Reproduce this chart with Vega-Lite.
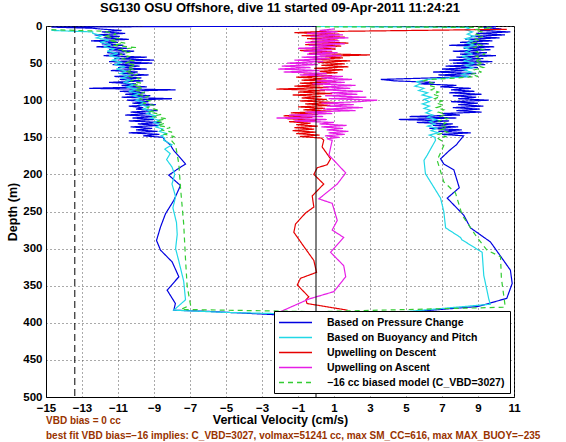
{
"$schema": "https://vega.github.io/schema/vega-lite/v6.json",
"width": 468, "height": 371,
"autosize": "none",
"padding": {"left": 46, "top": 26, "right": 52, "bottom": 45},
"background": "white",
"title": {"text": "SG130 OSU Offshore, dive 11 started 09-Apr-2011 11:24:21", "font": "Liberation Sans", "fontSize": 13, "fontWeight": "bold", "color": "black", "offset": 5},
"config": {
  "view": {"stroke": "black", "strokeWidth": 1},
  "axis": {"labelFont": "Liberation Sans", "labelFontSize": 11.5, "labelFontWeight": "bold", "labelColor": "black", "labelOverlap": false, "titleFont": "Liberation Sans", "titleFontSize": 12.5, "titleFontWeight": "bold", "titleColor": "black", "domainColor": "black", "ticks": false, "grid": true, "gridColor": "#555555", "gridDash": [1, 3], "gridOpacity": 1, "labelPadding": 4, "titlePadding": 3},
  "legend": {"orient": "bottom-right", "offset": 4, "fillColor": "white", "strokeColor": "black", "padding": 5, "labelFont": "Liberation Sans", "labelFontSize": 10.5, "labelFontWeight": "bold", "labelColor": "black", "labelLimit": 400, "symbolType": "M-3,0H3", "symbolSize": 121, "symbolStrokeWidth": 1.5, "symbolOffset": 10, "labelOffset": 25, "rowPadding": 3, "cornerRadius": 0}
},
"datasets": {
"prof": [
{"s":"P","v":0,"d":0},{"s":"P","v":-14.7,"d":1.5},{"s":"P","v":-12.4,"d":3},
{"s":"P","v":-12.0,"d":4},{"s":"P","v":-10.8,"d":6},{"s":"P","v":-11.9,"d":8},{"s":"P","v":-10.6,"d":10},{"s":"P","v":-12.3,"d":12},{"s":"P","v":-10.9,"d":14},{"s":"P","v":-11.8,"d":16},{"s":"P","v":-10.4,"d":18},{"s":"P","v":-12.5,"d":20},{"s":"P","v":-11.0,"d":22},{"s":"P","v":-11.9,"d":24},{"s":"P","v":-10.7,"d":26},{"s":"P","v":-12.2,"d":28},{"s":"P","v":-10.5,"d":30},{"s":"P","v":-11.5,"d":32},{"s":"P","v":-10.1,"d":34},{"s":"P","v":-11.6,"d":36},{"s":"P","v":-10.6,"d":38},{"s":"P","v":-11.8,"d":40},{"s":"P","v":-9.4,"d":42},{"s":"P","v":-11.2,"d":44},{"s":"P","v":-9.0,"d":46},{"s":"P","v":-11.5,"d":48},{"s":"P","v":-9.1,"d":50},{"s":"P","v":-11.3,"d":52},{"s":"P","v":-9.8,"d":54},{"s":"P","v":-11.0,"d":56},{"s":"P","v":-9.4,"d":58},{"s":"P","v":-11.4,"d":60},{"s":"P","v":-9.9,"d":62},{"s":"P","v":-10.8,"d":64},{"s":"P","v":-9.3,"d":66},{"s":"P","v":-11.2,"d":68},{"s":"P","v":-9.7,"d":70},{"s":"P","v":-10.9,"d":72},{"s":"P","v":-9.6,"d":74},{"s":"P","v":-11.5,"d":76},{"s":"P","v":-10.0,"d":78},{"s":"P","v":-10.8,"d":80},{"s":"P","v":-9.4,"d":82},{"s":"P","v":-12.6,"d":84},{"s":"P","v":-7.8,"d":86},{"s":"P","v":-10.9,"d":88},{"s":"P","v":-9.5,"d":90},{"s":"P","v":-10.6,"d":92},{"s":"P","v":-9.2,"d":94},{"s":"P","v":-10.8,"d":96},{"s":"P","v":-8.0,"d":98},{"s":"P","v":-10.5,"d":100},{"s":"P","v":-9.3,"d":102},{"s":"P","v":-10.2,"d":104},{"s":"P","v":-8.9,"d":106},{"s":"P","v":-10.4,"d":108},{"s":"P","v":-9.6,"d":110},{"s":"P","v":-10.0,"d":112},{"s":"P","v":-8.8,"d":114},{"s":"P","v":-10.3,"d":116},{"s":"P","v":-9.2,"d":118},{"s":"P","v":-10.6,"d":120},{"s":"P","v":-8.9,"d":122},{"s":"P","v":-10.2,"d":124},{"s":"P","v":-9.0,"d":126},{"s":"P","v":-10.4,"d":128},{"s":"P","v":-8.6,"d":130},{"s":"P","v":-9.9,"d":132},{"s":"P","v":-8.7,"d":134},{"s":"P","v":-10.3,"d":136},{"s":"P","v":-9.1,"d":138},{"s":"P","v":-10.0,"d":140},{"s":"P","v":-8.8,"d":142},{"s":"P","v":-10.4,"d":144},{"s":"P","v":-8.7,"d":146},{"s":"P","v":-9.6,"d":148},{"s":"P","v":-8.5,"d":150},
{"s":"P","v":-8.4,"d":154},{"s":"P","v":-8.1,"d":160},{"s":"P","v":-7.9,"d":168},{"s":"P","v":-7.6,"d":176},{"s":"P","v":-7.25,"d":186},{"s":"P","v":-7.7,"d":193},{"s":"P","v":-8.18,"d":201},{"s":"P","v":-7.53,"d":215},{"s":"P","v":-7.9,"d":235},{"s":"P","v":-8.36,"d":253},{"s":"P","v":-8.64,"d":271},{"s":"P","v":-8.86,"d":289},{"s":"P","v":-8.64,"d":302},{"s":"P","v":-7.99,"d":318},{"s":"P","v":-7.62,"d":338},{"s":"P","v":-8.27,"d":356},{"s":"P","v":-7.81,"d":374},{"s":"P","v":-7.9,"d":383},{"s":"P","v":-6.1,"d":384.5},{"s":"P","v":-2.3,"d":389},{"s":"P","v":4.6,"d":386.5},{"s":"P","v":9.0,"d":378},{"s":"P","v":10.6,"d":367},{"s":"P","v":10.9,"d":347},{"s":"P","v":10.8,"d":329},{"s":"P","v":9.69,"d":291},{"s":"P","v":8.58,"d":272},{"s":"P","v":8.21,"d":255},{"s":"P","v":7.29,"d":232},{"s":"P","v":7.96,"d":218},{"s":"P","v":7.66,"d":194},{"s":"P","v":7.1,"d":186},{"s":"P","v":6.92,"d":179},{"s":"P","v":7.4,"d":168},{"s":"P","v":7.8,"d":160},{"s":"P","v":8.0,"d":154},
{"s":"P","v":8.2,"d":148},{"s":"P","v":7.0,"d":146},{"s":"P","v":8.6,"d":144},{"s":"P","v":6.8,"d":142},{"s":"P","v":8.1,"d":140},{"s":"P","v":6.3,"d":138},{"s":"P","v":7.9,"d":136},{"s":"P","v":6.5,"d":134},{"s":"P","v":7.6,"d":132},{"s":"P","v":5.6,"d":130},{"s":"P","v":7.4,"d":128},{"s":"P","v":4.6,"d":126},{"s":"P","v":7.8,"d":124},{"s":"P","v":5.2,"d":122},{"s":"P","v":8.0,"d":120},{"s":"P","v":7.0,"d":118},{"s":"P","v":9.2,"d":116},{"s":"P","v":7.8,"d":114},{"s":"P","v":9.1,"d":112},{"s":"P","v":7.6,"d":110},{"s":"P","v":9.3,"d":108},{"s":"P","v":7.9,"d":106},{"s":"P","v":9.0,"d":104},{"s":"P","v":7.5,"d":102},{"s":"P","v":9.6,"d":100},{"s":"P","v":7.9,"d":98},{"s":"P","v":8.9,"d":96},{"s":"P","v":7.6,"d":94},{"s":"P","v":9.2,"d":92},{"s":"P","v":7.4,"d":90},{"s":"P","v":8.8,"d":88},{"s":"P","v":7.5,"d":86},{"s":"P","v":8.6,"d":84},{"s":"P","v":6.9,"d":82},{"s":"P","v":7.8,"d":80},{"s":"P","v":5.8,"d":78},{"s":"P","v":6.6,"d":76},{"s":"P","v":4.4,"d":74},{"s":"P","v":3.6,"d":72},{"s":"P","v":6.4,"d":70},{"s":"P","v":8.6,"d":68},{"s":"P","v":6.8,"d":66},{"s":"P","v":8.9,"d":64},{"s":"P","v":6.5,"d":62},{"s":"P","v":8.4,"d":60},{"s":"P","v":7.0,"d":58},{"s":"P","v":9.0,"d":56},{"s":"P","v":7.2,"d":54},{"s":"P","v":9.4,"d":52},{"s":"P","v":7.6,"d":50},{"s":"P","v":9.8,"d":48},{"s":"P","v":7.4,"d":46},{"s":"P","v":9.3,"d":44},{"s":"P","v":7.8,"d":42},{"s":"P","v":10.0,"d":40},{"s":"P","v":8.0,"d":38},{"s":"P","v":9.5,"d":36},{"s":"P","v":7.6,"d":34},{"s":"P","v":9.7,"d":32},{"s":"P","v":8.2,"d":30},{"s":"P","v":9.9,"d":28},{"s":"P","v":7.4,"d":26},{"s":"P","v":9.6,"d":24},{"s":"P","v":8.0,"d":22},{"s":"P","v":9.8,"d":20},{"s":"P","v":8.3,"d":18},{"s":"P","v":10.2,"d":16},{"s":"P","v":8.6,"d":14},{"s":"P","v":10.5,"d":12},{"s":"P","v":8.9,"d":10},{"s":"P","v":10.8,"d":8},{"s":"P","v":9.1,"d":6},{"s":"P","v":10.3,"d":4},{"s":"P","v":9.3,"d":2},{"s":"P","v":10.0,"d":0.8},

{"s":"B","v":-14.7,"d":6},{"s":"B","v":-12.4,"d":8},
{"s":"B","v":-12.4,"d":10},{"s":"B","v":-11.9,"d":13},{"s":"B","v":-12.2,"d":16},{"s":"B","v":-11.5,"d":19},{"s":"B","v":-12.0,"d":22},{"s":"B","v":-11.4,"d":25},{"s":"B","v":-11.8,"d":28},{"s":"B","v":-11.2,"d":31},{"s":"B","v":-11.6,"d":34},{"s":"B","v":-11.0,"d":37},{"s":"B","v":-11.5,"d":40},{"s":"B","v":-10.9,"d":43},{"s":"B","v":-11.3,"d":46},{"s":"B","v":-10.8,"d":49},{"s":"B","v":-11.2,"d":52},{"s":"B","v":-10.6,"d":55},{"s":"B","v":-11.1,"d":58},{"s":"B","v":-10.5,"d":61},{"s":"B","v":-10.9,"d":64},{"s":"B","v":-10.4,"d":67},{"s":"B","v":-10.8,"d":70},{"s":"B","v":-10.3,"d":73},{"s":"B","v":-10.7,"d":76},{"s":"B","v":-10.1,"d":79},{"s":"B","v":-10.5,"d":82},{"s":"B","v":-10.0,"d":85},{"s":"B","v":-10.4,"d":88},{"s":"B","v":-9.8,"d":91},{"s":"B","v":-10.2,"d":94},{"s":"B","v":-9.7,"d":97},{"s":"B","v":-10.0,"d":100},{"s":"B","v":-9.5,"d":103},{"s":"B","v":-9.8,"d":106},{"s":"B","v":-9.3,"d":109},{"s":"B","v":-9.6,"d":112},{"s":"B","v":-9.1,"d":115},{"s":"B","v":-9.4,"d":118},{"s":"B","v":-8.9,"d":121},{"s":"B","v":-9.2,"d":124},{"s":"B","v":-8.7,"d":127},{"s":"B","v":-9.0,"d":130},{"s":"B","v":-8.6,"d":133},{"s":"B","v":-8.9,"d":136},{"s":"B","v":-8.5,"d":139},{"s":"B","v":-8.7,"d":142},{"s":"B","v":-8.3,"d":145},{"s":"B","v":-8.6,"d":148},{"s":"B","v":-8.4,"d":151},
{"s":"B","v":-8.46,"d":154},{"s":"B","v":-8.0,"d":160},{"s":"B","v":-8.4,"d":166},{"s":"B","v":-8.1,"d":172},{"s":"B","v":-8.3,"d":180},{"s":"B","v":-8.0,"d":190},{"s":"B","v":-7.85,"d":200},{"s":"B","v":-8.0,"d":213},{"s":"B","v":-7.8,"d":230},{"s":"B","v":-7.95,"d":245},{"s":"B","v":-7.75,"d":265},{"s":"B","v":-7.71,"d":281},{"s":"B","v":-7.8,"d":300},{"s":"B","v":-7.62,"d":317},{"s":"B","v":-7.35,"d":344},{"s":"B","v":-7.25,"d":369},{"s":"B","v":-7.9,"d":383},{"s":"B","v":-5.0,"d":386},{"s":"B","v":-1.5,"d":388},{"s":"B","v":4.0,"d":387},{"s":"B","v":9.68,"d":375},{"s":"B","v":9.6,"d":368},{"s":"B","v":9.32,"d":336},{"s":"B","v":9.23,"d":305},{"s":"B","v":8.1,"d":288},{"s":"B","v":8.03,"d":285},{"s":"B","v":7.2,"d":272},{"s":"B","v":7.1,"d":250},{"s":"B","v":6.92,"d":232},{"s":"B","v":6.36,"d":210},{"s":"B","v":6.08,"d":199},{"s":"B","v":6.0,"d":181},{"s":"B","v":6.18,"d":174},{"s":"B","v":6.64,"d":154},
{"s":"B","v":6.6,"d":150},{"s":"B","v":6.3,"d":147},{"s":"B","v":6.8,"d":144},{"s":"B","v":6.4,"d":141},{"s":"B","v":6.7,"d":138},{"s":"B","v":6.2,"d":135},{"s":"B","v":6.6,"d":132},{"s":"B","v":6.3,"d":129},{"s":"B","v":6.7,"d":126},{"s":"B","v":6.2,"d":123},{"s":"B","v":6.5,"d":120},{"s":"B","v":6.1,"d":117},{"s":"B","v":6.4,"d":114},{"s":"B","v":6.0,"d":111},{"s":"B","v":6.3,"d":108},{"s":"B","v":5.9,"d":105},{"s":"B","v":6.3,"d":102},{"s":"B","v":6.0,"d":99},{"s":"B","v":6.4,"d":96},{"s":"B","v":5.9,"d":93},{"s":"B","v":6.2,"d":90},{"s":"B","v":5.7,"d":87},{"s":"B","v":6.0,"d":84},{"s":"B","v":5.5,"d":81},{"s":"B","v":5.8,"d":78},{"s":"B","v":5.6,"d":75},{"s":"B","v":6.2,"d":72},{"s":"B","v":7.4,"d":70},{"s":"B","v":8.5,"d":68},{"s":"B","v":8.1,"d":65},{"s":"B","v":8.6,"d":62},{"s":"B","v":8.2,"d":59},{"s":"B","v":8.7,"d":56},{"s":"B","v":8.3,"d":53},{"s":"B","v":8.8,"d":50},{"s":"B","v":8.2,"d":47},{"s":"B","v":8.6,"d":44},{"s":"B","v":8.1,"d":41},{"s":"B","v":8.7,"d":38},{"s":"B","v":8.3,"d":35},{"s":"B","v":8.6,"d":32},{"s":"B","v":8.2,"d":29},{"s":"B","v":8.8,"d":26},{"s":"B","v":8.4,"d":23},{"s":"B","v":8.7,"d":20},{"s":"B","v":8.3,"d":17},{"s":"B","v":8.8,"d":14},{"s":"B","v":8.4,"d":11},{"s":"B","v":8.7,"d":8},{"s":"B","v":8.3,"d":5},{"s":"B","v":8.6,"d":2},{"s":"B","v":0,"d":0.5},

{"s":"D","v":10.6,"d":4.5},{"s":"D","v":0.2,"d":7.5},
{"s":"D","v":-1.2,"d":9},{"s":"D","v":1.3,"d":11},{"s":"D","v":-0.8,"d":13},{"s":"D","v":1.6,"d":15},{"s":"D","v":-0.5,"d":17},{"s":"D","v":1.2,"d":19},{"s":"D","v":-0.3,"d":21},{"s":"D","v":1.8,"d":23},{"s":"D","v":-0.6,"d":25},{"s":"D","v":1.4,"d":27},{"s":"D","v":-0.2,"d":29},{"s":"D","v":1.1,"d":31},{"s":"D","v":-0.9,"d":33},{"s":"D","v":0.9,"d":35},{"s":"D","v":-0.4,"d":37},{"s":"D","v":3.0,"d":39},{"s":"D","v":0.2,"d":41},{"s":"D","v":1.5,"d":43},{"s":"D","v":-0.2,"d":45},{"s":"D","v":1.9,"d":47},{"s":"D","v":0.1,"d":49},{"s":"D","v":1.6,"d":51},{"s":"D","v":0.3,"d":53},{"s":"D","v":1.8,"d":55},{"s":"D","v":-0.1,"d":57},{"s":"D","v":1.5,"d":59},{"s":"D","v":0.2,"d":61},{"s":"D","v":1.2,"d":63},{"s":"D","v":-0.7,"d":65},{"s":"D","v":0.9,"d":67},{"s":"D","v":-1.1,"d":69},{"s":"D","v":0.6,"d":71},{"s":"D","v":-0.8,"d":73},{"s":"D","v":1.1,"d":75},{"s":"D","v":-0.9,"d":77},{"s":"D","v":0.4,"d":79},{"s":"D","v":-1.2,"d":81},{"s":"D","v":0.7,"d":83},{"s":"D","v":-2.2,"d":85},{"s":"D","v":0.5,"d":87},{"s":"D","v":-1.0,"d":89},{"s":"D","v":0.9,"d":91},{"s":"D","v":-1.3,"d":93},{"s":"D","v":0.3,"d":95},{"s":"D","v":-0.8,"d":97},{"s":"D","v":0.6,"d":99},{"s":"D","v":-0.9,"d":101},{"s":"D","v":1.0,"d":103},{"s":"D","v":-0.6,"d":105},{"s":"D","v":0.8,"d":107},{"s":"D","v":-1.0,"d":109},{"s":"D","v":0.5,"d":111},{"s":"D","v":-0.7,"d":113},{"s":"D","v":0.9,"d":115},{"s":"D","v":-1.4,"d":117},{"s":"D","v":0.1,"d":119},{"s":"D","v":-1.8,"d":121},{"s":"D","v":-0.2,"d":123},{"s":"D","v":-1.6,"d":125},{"s":"D","v":0.0,"d":127},{"s":"D","v":-1.5,"d":129},{"s":"D","v":-0.3,"d":131},{"s":"D","v":-1.1,"d":133},{"s":"D","v":0.1,"d":135},{"s":"D","v":-1.2,"d":137},{"s":"D","v":-0.1,"d":139},{"s":"D","v":-1.3,"d":141},{"s":"D","v":0.0,"d":143},{"s":"D","v":-1.1,"d":145},{"s":"D","v":0.2,"d":147},{"s":"D","v":-0.9,"d":149},{"s":"D","v":0.3,"d":151},
{"s":"D","v":0.43,"d":154},{"s":"D","v":0.34,"d":163},{"s":"D","v":0.81,"d":179},{"s":"D","v":0.62,"d":187},{"s":"D","v":0.07,"d":191},{"s":"D","v":-0.12,"d":200},{"s":"D","v":0.43,"d":213},{"s":"D","v":-0.21,"d":229},{"s":"D","v":-0.12,"d":244},{"s":"D","v":-0.58,"d":252},{"s":"D","v":-1.14,"d":267},{"s":"D","v":-1.23,"d":278},{"s":"D","v":-0.68,"d":297},{"s":"D","v":-0.12,"d":316},{"s":"D","v":0.03,"d":332},{"s":"D","v":-0.86,"d":340},{"s":"D","v":-1.04,"d":349},{"s":"D","v":-0.4,"d":365},{"s":"D","v":-0.56,"d":369},{"s":"D","v":-0.5,"d":374},{"s":"D","v":1.75,"d":383},

{"s":"A","v":-2.16,"d":387},{"s":"A","v":-0.4,"d":368},{"s":"A","v":0.99,"d":358},{"s":"A","v":1.65,"d":338},{"s":"A","v":1.54,"d":323},{"s":"A","v":0.81,"d":305},{"s":"A","v":1.54,"d":285},{"s":"A","v":0.9,"d":275},{"s":"A","v":1.18,"d":262},{"s":"A","v":0.9,"d":239},{"s":"A","v":0.16,"d":233},{"s":"A","v":1.18,"d":213},{"s":"A","v":1.65,"d":198},{"s":"A","v":0.72,"d":174},{"s":"A","v":0.9,"d":154},
{"s":"A","v":0.6,"d":152},{"s":"A","v":1.3,"d":150},{"s":"A","v":0.5,"d":148},{"s":"A","v":1.6,"d":146},{"s":"A","v":0.7,"d":144},{"s":"A","v":1.8,"d":142},{"s":"A","v":0.6,"d":140},{"s":"A","v":1.5,"d":138},{"s":"A","v":0.3,"d":136},{"s":"A","v":1.7,"d":134},{"s":"A","v":0.2,"d":132},{"s":"A","v":1.0,"d":130},{"s":"A","v":-1.2,"d":128},{"s":"A","v":0.6,"d":126},{"s":"A","v":-2.2,"d":124},{"s":"A","v":0.4,"d":122},{"s":"A","v":-1.5,"d":120},{"s":"A","v":0.9,"d":118},{"s":"A","v":-0.6,"d":116},{"s":"A","v":2.2,"d":114},{"s":"A","v":0.4,"d":112},{"s":"A","v":2.6,"d":110},{"s":"A","v":0.6,"d":108},{"s":"A","v":2.1,"d":106},{"s":"A","v":0.3,"d":104},{"s":"A","v":2.4,"d":102},{"s":"A","v":3.4,"d":100},{"s":"A","v":0.7,"d":98},{"s":"A","v":2.8,"d":96},{"s":"A","v":0.5,"d":94},{"s":"A","v":2.3,"d":92},{"s":"A","v":0.8,"d":90},{"s":"A","v":2.6,"d":88},{"s":"A","v":0.2,"d":86},{"s":"A","v":1.9,"d":84},{"s":"A","v":0.4,"d":82},{"s":"A","v":2.2,"d":80},{"s":"A","v":-0.2,"d":78},{"s":"A","v":1.6,"d":76},{"s":"A","v":0.0,"d":74},{"s":"A","v":2.0,"d":72},{"s":"A","v":0.3,"d":70},{"s":"A","v":1.5,"d":68},{"s":"A","v":-0.9,"d":66},{"s":"A","v":0.6,"d":64},{"s":"A","v":-1.8,"d":62},{"s":"A","v":0.2,"d":60},{"s":"A","v":-2.1,"d":58},{"s":"A","v":-0.3,"d":56},{"s":"A","v":-1.9,"d":54},{"s":"A","v":0.1,"d":52},{"s":"A","v":-1.6,"d":50},{"s":"A","v":0.4,"d":48},{"s":"A","v":-1.2,"d":46},{"s":"A","v":0.8,"d":44},{"s":"A","v":-0.8,"d":42},{"s":"A","v":1.4,"d":40},{"s":"A","v":-0.5,"d":38},{"s":"A","v":1.2,"d":36},{"s":"A","v":-0.7,"d":34},{"s":"A","v":0.9,"d":32},{"s":"A","v":-1.0,"d":30},{"s":"A","v":1.1,"d":28},{"s":"A","v":-0.4,"d":26},{"s":"A","v":1.6,"d":24},{"s":"A","v":-0.6,"d":22},{"s":"A","v":1.3,"d":20},{"s":"A","v":-0.2,"d":18},{"s":"A","v":1.8,"d":16},{"s":"A","v":-0.3,"d":14},{"s":"A","v":1.5,"d":12},{"s":"A","v":-0.5,"d":10},{"s":"A","v":1.2,"d":8},{"s":"A","v":0.2,"d":6},{"s":"A","v":1.0,"d":4},

{"s":"M","v":-14.7,"d":5},{"s":"M","v":-11.8,"d":7},
{"s":"M","v":-11.6,"d":8},{"s":"M","v":-11.1,"d":11},{"s":"M","v":-11.8,"d":14},{"s":"M","v":-10.9,"d":17},{"s":"M","v":-11.5,"d":20},{"s":"M","v":-10.6,"d":23},{"s":"M","v":-11.3,"d":26},{"s":"M","v":-10.0,"d":29},{"s":"M","v":-11.0,"d":32},{"s":"M","v":-10.3,"d":35},{"s":"M","v":-10.9,"d":38},{"s":"M","v":-10.4,"d":41},{"s":"M","v":-10.8,"d":44},{"s":"M","v":-10.1,"d":47},{"s":"M","v":-10.6,"d":50},{"s":"M","v":-10.0,"d":53},{"s":"M","v":-10.5,"d":56},{"s":"M","v":-10.1,"d":59},{"s":"M","v":-10.6,"d":62},{"s":"M","v":-9.9,"d":65},{"s":"M","v":-10.4,"d":68},{"s":"M","v":-9.8,"d":71},{"s":"M","v":-10.3,"d":74},{"s":"M","v":-9.7,"d":77},{"s":"M","v":-10.2,"d":80},{"s":"M","v":-9.6,"d":83},{"s":"M","v":-10.1,"d":86},{"s":"M","v":-9.5,"d":89},{"s":"M","v":-9.9,"d":92},{"s":"M","v":-9.3,"d":95},{"s":"M","v":-9.8,"d":98},{"s":"M","v":-9.2,"d":101},{"s":"M","v":-9.6,"d":104},{"s":"M","v":-9.0,"d":107},{"s":"M","v":-9.4,"d":110},{"s":"M","v":-8.8,"d":113},{"s":"M","v":-9.3,"d":116},{"s":"M","v":-8.6,"d":119},{"s":"M","v":-9.1,"d":122},{"s":"M","v":-8.3,"d":125},{"s":"M","v":-8.9,"d":128},{"s":"M","v":-8.4,"d":131},{"s":"M","v":-8.8,"d":134},{"s":"M","v":-8.1,"d":137},{"s":"M","v":-8.6,"d":140},{"s":"M","v":-8.0,"d":143},{"s":"M","v":-8.4,"d":146},{"s":"M","v":-7.9,"d":149},{"s":"M","v":-8.1,"d":152},
{"s":"M","v":-7.8,"d":161},{"s":"M","v":-7.62,"d":186},{"s":"M","v":-7.53,"d":217},{"s":"M","v":-7.35,"d":267},{"s":"M","v":-7.25,"d":314},{"s":"M","v":-7.16,"d":350},{"s":"M","v":-6.97,"d":376},{"s":"M","v":-7.5,"d":382},{"s":"M","v":0,"d":385},{"s":"M","v":10.5,"d":379},{"s":"M","v":10.5,"d":376},{"s":"M","v":10.3,"d":340},{"s":"M","v":10.25,"d":311},{"s":"M","v":9.5,"d":302},{"s":"M","v":8.95,"d":285},{"s":"M","v":8.12,"d":255},{"s":"M","v":7.75,"d":225},{"s":"M","v":7.1,"d":210},{"s":"M","v":6.73,"d":181},{"s":"M","v":7.1,"d":161},
{"s":"M","v":7.0,"d":155},{"s":"M","v":6.8,"d":152},{"s":"M","v":7.2,"d":149},{"s":"M","v":6.8,"d":146},{"s":"M","v":7.3,"d":143},{"s":"M","v":6.9,"d":140},{"s":"M","v":7.3,"d":137},{"s":"M","v":6.9,"d":134},{"s":"M","v":7.2,"d":131},{"s":"M","v":6.8,"d":128},{"s":"M","v":7.3,"d":125},{"s":"M","v":6.9,"d":122},{"s":"M","v":7.2,"d":119},{"s":"M","v":6.8,"d":116},{"s":"M","v":7.1,"d":113},{"s":"M","v":6.7,"d":110},{"s":"M","v":7.1,"d":107},{"s":"M","v":6.7,"d":104},{"s":"M","v":7.0,"d":101},{"s":"M","v":6.6,"d":98},{"s":"M","v":6.9,"d":95},{"s":"M","v":6.5,"d":92},{"s":"M","v":6.8,"d":89},{"s":"M","v":6.4,"d":86},{"s":"M","v":6.7,"d":83},{"s":"M","v":6.3,"d":80},{"s":"M","v":6.5,"d":77},{"s":"M","v":6.0,"d":74},{"s":"M","v":6.3,"d":72},{"s":"M","v":7.8,"d":70},{"s":"M","v":9.0,"d":68},{"s":"M","v":8.6,"d":65},{"s":"M","v":9.2,"d":62},{"s":"M","v":8.8,"d":59},{"s":"M","v":9.3,"d":56},{"s":"M","v":8.9,"d":53},{"s":"M","v":9.3,"d":50},{"s":"M","v":8.8,"d":47},{"s":"M","v":9.2,"d":44},{"s":"M","v":8.9,"d":41},{"s":"M","v":9.4,"d":38},{"s":"M","v":8.9,"d":35},{"s":"M","v":9.3,"d":32},{"s":"M","v":8.8,"d":29},{"s":"M","v":9.2,"d":26},{"s":"M","v":8.7,"d":23},{"s":"M","v":9.1,"d":20},{"s":"M","v":8.8,"d":17},{"s":"M","v":9.3,"d":14},{"s":"M","v":8.9,"d":11},{"s":"M","v":9.2,"d":8},{"s":"M","v":8.8,"d":5},{"s":"M","v":9.8,"d":2},{"s":"M","v":0,"d":1}
],
"ref": [{"x": -13.4, "k": "bias"}, {"x": 0, "k": "zero"}],
"notes": [{"x": -15, "y": 533, "t": "VBD bias = 0 cc"}, {"x": -15, "y": 552, "t": "best fit VBD bias=−16 implies: C_VBD=3027, volmax=51241 cc, max SM_CC=616, max MAX_BUOY=−235"}]
},
"layer": [
  {
    "data": {"name": "prof"},
    "mark": {"type": "line", "strokeWidth": 1.2, "clip": true},
    "encoding": {
      "x": {"field": "v", "type": "quantitative", "scale": {"domain": [-15, 11], "nice": false, "zero": false}, "axis": {"values": [-15,-13,-11,-9,-7,-5,-3,-1,1,3,5,7,9,11], "format": "d", "tickCount": 40, "labelOverlap": false, "labelFlush": false, "labelPadding": 5, "title": "Vertical Velocity (cm/s)", "titlePadding": 0}},
      "y": {"field": "d", "type": "quantitative", "scale": {"domain": [0, 500], "reverse": true, "nice": false, "zero": false}, "axis": {"values": [0,50,100,150,200,250,300,350,400,450,500], "format": "d", "tickCount": 40, "labelOverlap": false, "labelFlush": false, "labelPadding": 4, "title": "Depth (m)"}},
      "color": {"field": "s", "type": "nominal", "scale": {"domain": ["P","B","D","A","M"], "range": ["#0000E0","#22D8E6","#E60000","#E61EE6","#33CC33"]}, "legend": {"title": null, "labelExpr": "{'P':'Based on Pressure Change','B':'Based on Buoyancy and Pitch','D':'Upwelling on Descent','A':'Upwelling on Ascent','M':'−16 cc biased model (C_VBD=3027)'}[datum.value]"}},
      "strokeDash": {"field": "s", "type": "nominal", "scale": {"domain": ["P","B","D","A","M"], "range": [[1,0],[1,0],[1,0],[1,0],[5,4]]}, "legend": {"title": null, "labelExpr": "{'P':'Based on Pressure Change','B':'Based on Buoyancy and Pitch','D':'Upwelling on Descent','A':'Upwelling on Ascent','M':'−16 cc biased model (C_VBD=3027)'}[datum.value]"}},
      "order": {"value": null}
    }
  },
  {
    "data": {"name": "ref"},
    "transform": [{"filter": "datum.k == 'bias'"}],
    "mark": {"type": "rule", "color": "black", "strokeWidth": 1, "strokeDash": [7, 4]},
    "encoding": {"x": {"field": "x", "type": "quantitative", "scale": {"domain": [-15, 11], "nice": false, "zero": false}}}
  },
  {
    "data": {"name": "ref"},
    "transform": [{"filter": "datum.k == 'zero'"}],
    "mark": {"type": "rule", "color": "black", "strokeWidth": 1},
    "encoding": {"x": {"field": "x", "type": "quantitative", "scale": {"domain": [-15, 11], "nice": false, "zero": false}}}
  },
  {
    "data": {"name": "notes"},
    "mark": {"type": "text", "align": "left", "baseline": "middle", "font": "Liberation Sans", "fontWeight": "bold", "fontSize": 10, "color": "#993300"},
    "encoding": {
      "x": {"field": "x", "type": "quantitative", "scale": {"domain": [-15, 11], "nice": false, "zero": false}},
      "y": {"field": "y", "type": "quantitative", "scale": {"domain": [0, 500], "reverse": true, "nice": false, "zero": false}},
      "text": {"field": "t", "type": "nominal"}
    }
  }
]
}
